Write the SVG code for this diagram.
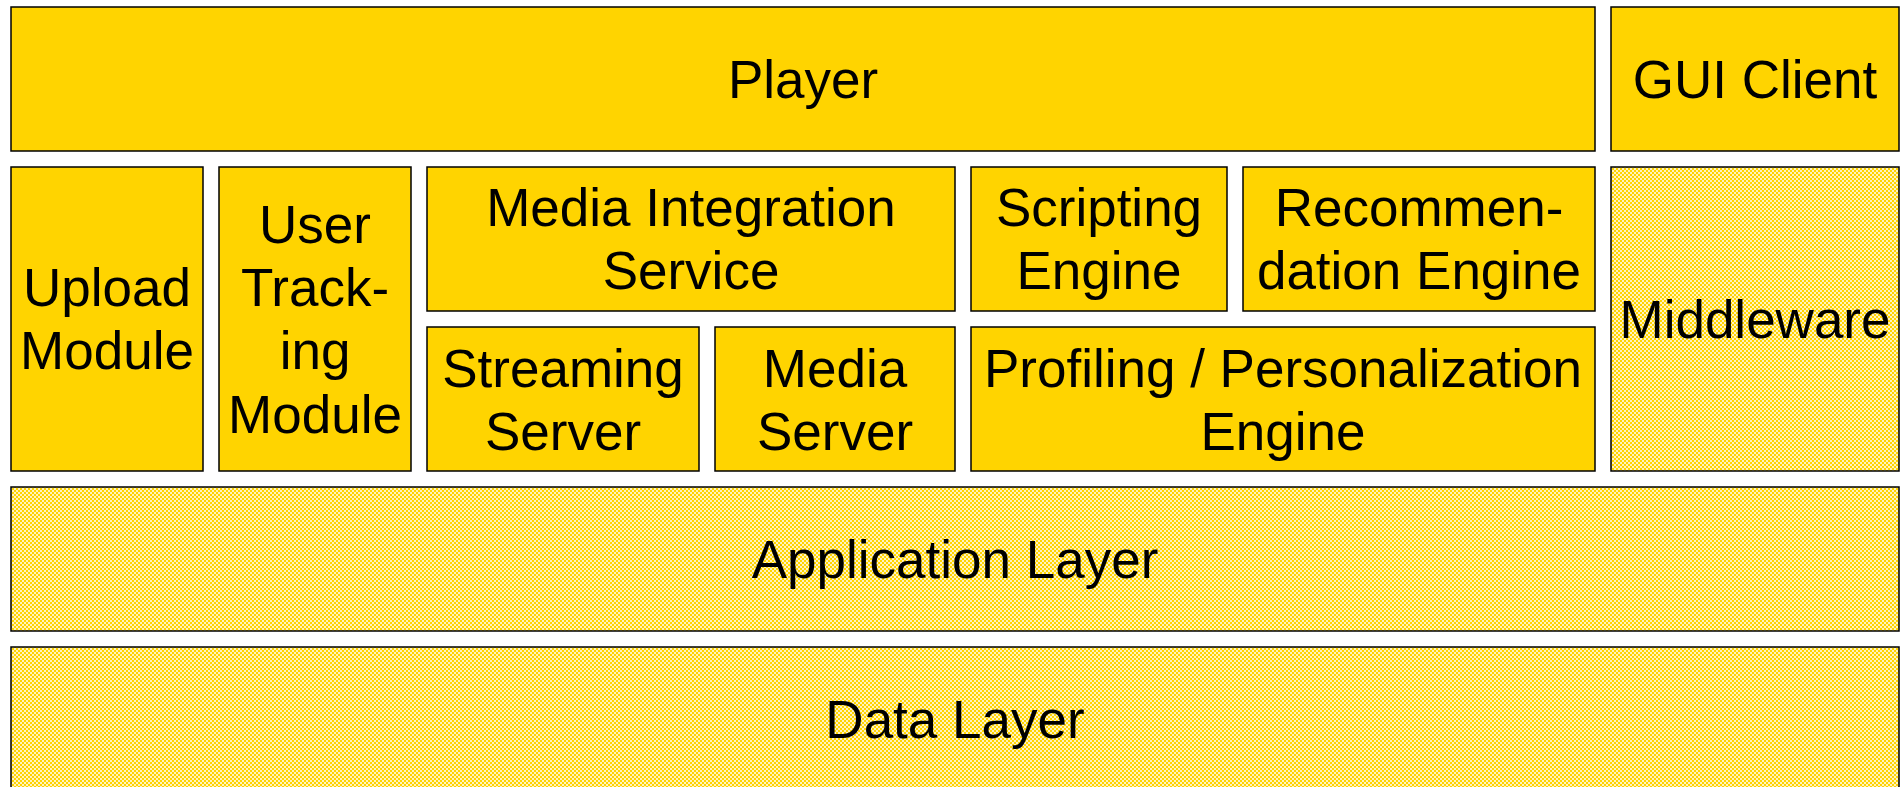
<svg xmlns="http://www.w3.org/2000/svg" width="1903" height="787" viewBox="0 0 1903 787">
  <defs>
    <!-- fine checkerboard used for the infrastructure layers -->
    <pattern id="checker" x="0" y="0" width="4" height="4" patternUnits="userSpaceOnUse">
      <rect x="0" y="0" width="4" height="4" fill="#FFF3C0"/>
      <rect x="0" y="0" width="2" height="2" fill="#FFD400"/>
      <rect x="2" y="2" width="2" height="2" fill="#FFD400"/>
    </pattern>
  </defs>
  <style>
    .box { fill: #FFD400; stroke: #000; stroke-width: 1.5; }
    .layer { fill: url(#checker); stroke: #000; stroke-width: 1.5; }
    .label { font-family: "Liberation Sans", Arial, sans-serif; font-size: 53px; fill: #000; text-anchor: middle; }
  </style>
  <rect width="1903" height="787" fill="#FFFFFF"/>

  <g id="player">
    <rect class="box" x="11" y="7" width="1584" height="144"/>
    <text class="label" x="803" y="98">Player</text>
  </g>
  <g id="gui-client">
    <rect class="box" x="1611" y="7" width="288" height="144"/>
    <text class="label" x="1755" y="98">GUI Client</text>
  </g>

  <g id="upload-module">
    <rect class="box" x="11" y="167" width="192" height="304"/>
    <text class="label" x="107" y="306">Upload</text>
    <text class="label" x="107" y="369.3">Module</text>
  </g>
  <g id="user-tracking-module">
    <rect class="box" x="219" y="167" width="192" height="304"/>
    <text class="label" x="315" y="242.6">User</text>
    <text class="label" x="315" y="305.9">Track-</text>
    <text class="label" x="315" y="369.2">ing</text>
    <text class="label" x="315" y="432.5">Module</text>
  </g>
  <g id="media-integration-service">
    <rect class="box" x="427" y="167" width="528" height="144"/>
    <text class="label" x="691" y="226">Media Integration</text>
    <text class="label" x="691" y="288.5">Service</text>
  </g>
  <g id="scripting-engine">
    <rect class="box" x="971" y="167" width="256" height="144"/>
    <text class="label" x="1099" y="226">Scripting</text>
    <text class="label" x="1099" y="289.3">Engine</text>
  </g>
  <g id="recommendation-engine">
    <rect class="box" x="1243" y="167" width="352" height="144"/>
    <text class="label" x="1419" y="226">Recommen-</text>
    <text class="label" x="1419" y="289.3">dation Engine</text>
  </g>
  <g id="streaming-server">
    <rect class="box" x="427" y="327" width="272" height="144"/>
    <text class="label" x="563" y="386.7">Streaming</text>
    <text class="label" x="563" y="450">Server</text>
  </g>
  <g id="media-server">
    <rect class="box" x="715" y="327" width="240" height="144"/>
    <text class="label" x="835" y="386.7">Media</text>
    <text class="label" x="835" y="450">Server</text>
  </g>
  <g id="profiling-engine">
    <rect class="box" x="971" y="327" width="624" height="144"/>
    <text class="label" x="1283" y="386.7">Profiling / Personalization</text>
    <text class="label" x="1283" y="450">Engine</text>
  </g>
  <g id="middleware">
    <rect class="layer" x="1611" y="167" width="288" height="304"/>
    <text class="label" x="1755" y="338">Middleware</text>
  </g>

  <g id="application-layer">
    <rect class="layer" x="11" y="487" width="1888" height="144"/>
    <text class="label" x="955" y="578">Application Layer</text>
  </g>
  <g id="data-layer">
    <rect class="layer" x="11" y="647" width="1888" height="144"/>
    <text class="label" x="955" y="738">Data Layer</text>
  </g>

  <!-- this stack has no connectors -->
  <g id="connectors"/>
</svg>
